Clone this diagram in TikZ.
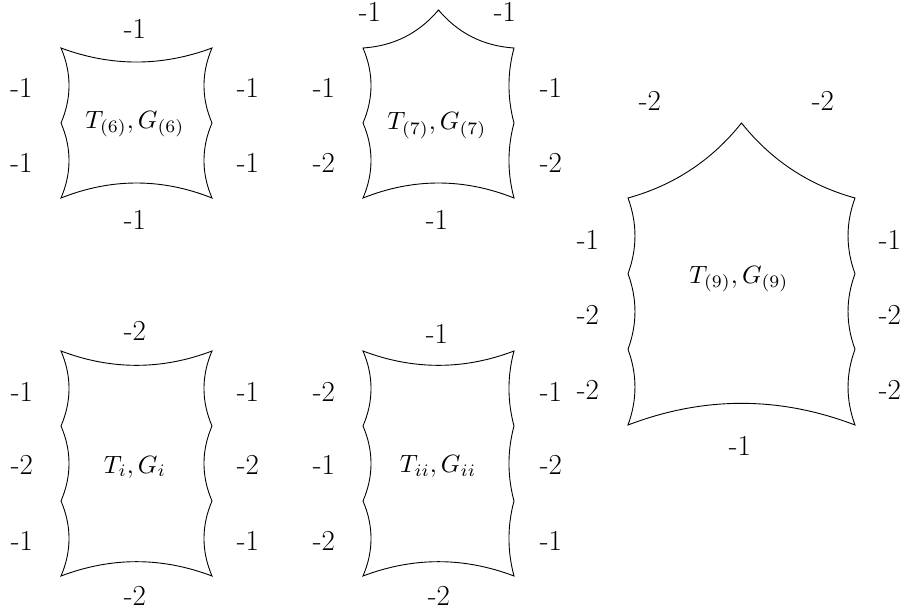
\documentclass[tikz,border=0pt]{standalone}
\usepackage{fontspec}
\usepackage{graphicx}
\newcommand{\mymathbig}[1]{\scalebox{2.5}{$#1$}}
\tikzset{
  lab/.style={font=\fontsize{29}{29}\selectfont, inner sep=0pt, anchor=center},
  mth/.style={inner sep=0pt, anchor=base},
  box/.style={draw=black, line width=0.9pt, line join=miter}
}
\begin{document}
\begin{tikzpicture}[x=1pt,y=-1pt]
\useasboundingbox (0,0) rectangle (906,614);
% ---------- Box T(6)
\draw[box] (61,48) .. controls (111.3,66.7) and (161.7,66.7) .. (212,48)
  .. controls (201.3,73) and (201.3,98) .. (212,123)
  .. controls (201.3,148) and (201.3,173) .. (212,198)
  .. controls (161.7,178) and (111.3,178) .. (61,198)
  .. controls (71.7,173) and (71.7,148) .. (61,123)
  .. controls (71.7,98) and (71.7,73) .. (61,48) -- cycle;
\node[mth] (t6) at (135,128.3) {\mymathbig{T_{(6)},G_{(6)}}};
\node[lab] (b1t) at (135,28.5) {-1};
\node[lab] (b1l1) at (21.5,88) {-1};
\node[lab] (b1l2) at (21.5,163) {-1};
\node[lab] (b1r1) at (248,88) {-1};
\node[lab] (b1r2) at (248,163) {-1};
\node[lab] (b1b) at (135,220) {-1};
% ---------- Box T(7)
\draw[box] (363,48) .. controls (393.6,46.0) and (418.7,33.4) .. (438.5,10)
  .. controls (458.3,33.4) and (483.4,46.0) .. (514,48)
  .. controls (507.3,73) and (507.3,98) .. (514,123)
  .. controls (507.3,148) and (507.3,173) .. (514,198)
  .. controls (463.7,178) and (413.3,178) .. (363,198)
  .. controls (373.7,173) and (373.7,148) .. (363,123)
  .. controls (373.7,98) and (373.7,73) .. (363,48) -- cycle;
\node[mth] (t7) at (437,129.5) {\mymathbig{T_{(7)},G_{(7)}}};
\node[lab] (b2t1) at (370,12) {-1};
\node[lab] (b2t2) at (505,12) {-1};
\node[lab] (b2l1) at (324,88) {-1};
\node[lab] (b2l2) at (324,163) {-2};
\node[lab] (b2r1) at (551,88) {-1};
\node[lab] (b2r2) at (551,163) {-2};
\node[lab] (b2b) at (437,220) {-1};
% ---------- Box T(9)
\draw[box] (628,198) .. controls (673.9,185.3) and (711.8,160.3) .. (741.5,123)
  .. controls (771.2,160.3) and (809.1,185.3) .. (855,198)
  .. controls (845.7,223.2) and (845.7,248.4) .. (855,273.7)
  .. controls (845.7,298.9) and (845.7,324.1) .. (855,349.3)
  .. controls (845.7,374.5) and (845.7,399.8) .. (855,425)
  .. controls (779.3,396.1) and (703.7,396.1) .. (628,425)
  .. controls (637.3,399.8) and (637.3,374.5) .. (628,349.3)
  .. controls (637.3,324.1) and (637.3,298.9) .. (628,273.7)
  .. controls (637.3,248.4) and (637.3,223.2) .. (628,198) -- cycle;
\node[mth] (t9) at (739,283.3) {\mymathbig{T_{(9)},G_{(9)}}};
\node[lab] (b3t1) at (650,101) {-2};
\node[lab] (b3t2) at (823,101) {-2};
\node[lab] (b3l1) at (588,240) {-1};
\node[lab] (b3l2) at (588,315) {-2};
\node[lab] (b3l3) at (588,390) {-2};
\node[lab] (b3r1) at (890,240) {-1};
\node[lab] (b3r2) at (890,315) {-2};
\node[lab] (b3r3) at (890,390) {-2};
\node[lab] (b3b) at (740,446) {-1};
% ---------- Box T_i
\draw[box] (61,351) .. controls (111.3,370.1) and (161.7,370.1) .. (212,351)
  .. controls (201.3,376) and (201.3,401) .. (212,426)
  .. controls (201.3,451) and (201.3,476) .. (212,501)
  .. controls (201.3,526) and (201.3,551) .. (212,576)
  .. controls (161.7,556.9) and (111.3,556.9) .. (61,576)
  .. controls (71.7,551) and (71.7,526) .. (61,501)
  .. controls (71.7,476) and (71.7,451) .. (61,426)
  .. controls (71.7,401) and (71.7,376) .. (61,351) -- cycle;
\node[mth] (ti) at (135,473) {\mymathbig{T_i,G_i}};
\node[lab] (b4t) at (135,331) {-2};
\node[lab] (b4l1) at (22,392) {-1};
\node[lab] (b4l2) at (22,465) {-2};
\node[lab] (b4l3) at (22,541) {-1};
\node[lab] (b4r1) at (248,392) {-1};
\node[lab] (b4r2) at (248,465) {-2};
\node[lab] (b4r3) at (248,541) {-1};
\node[lab] (b4b) at (135,596) {-2};
% ---------- Box T_ii
\draw[box] (363,351) .. controls (413.3,370.1) and (463.7,370.1) .. (514,351)
  .. controls (507.3,376) and (507.3,401) .. (514,426)
  .. controls (507.3,451) and (507.3,476) .. (514,501)
  .. controls (507.3,526) and (507.3,551) .. (514,576)
  .. controls (463.7,556.9) and (413.3,556.9) .. (363,576)
  .. controls (373.7,551) and (373.7,526) .. (363,501)
  .. controls (373.7,476) and (373.7,451) .. (363,426)
  .. controls (373.7,401) and (373.7,376) .. (363,351) -- cycle;
\node[mth] (tii) at (438,472.5) {\mymathbig{T_{ii},G_{ii}}};
\node[lab] (b5t) at (437,334) {-1};
\node[lab] (b5l1) at (324,392) {-2};
\node[lab] (b5l2) at (324,465) {-1};
\node[lab] (b5l3) at (324,541) {-2};
\node[lab] (b5r1) at (551,392) {-1};
\node[lab] (b5r2) at (551,465) {-2};
\node[lab] (b5r3) at (551,541) {-1};
\node[lab] (b5b) at (439,596) {-2};
\end{tikzpicture}
\end{document}
